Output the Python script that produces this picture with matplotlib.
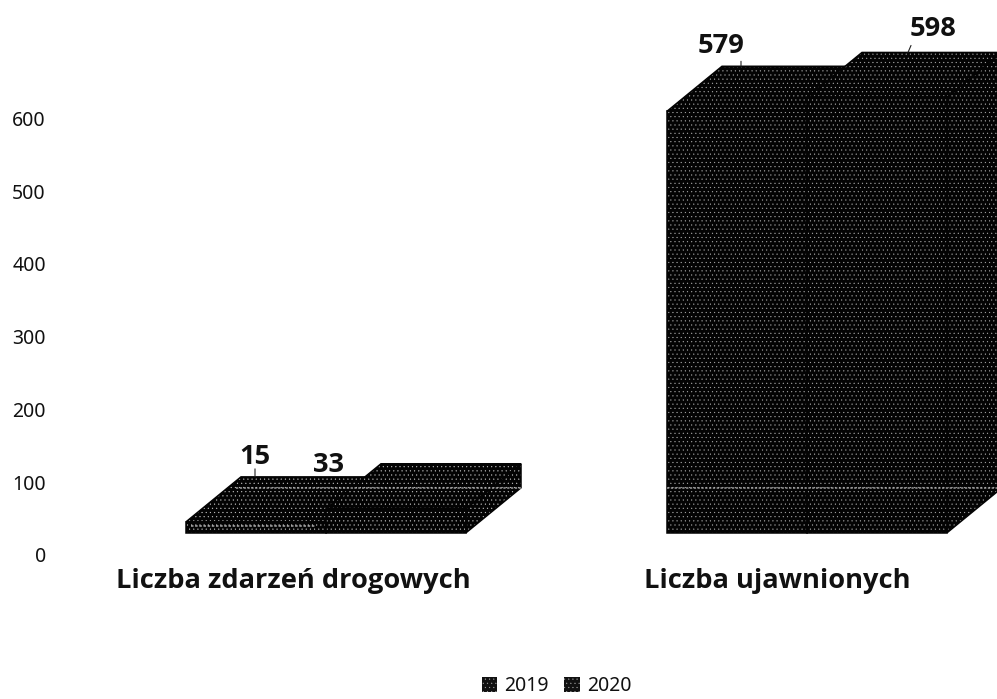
import matplotlib
matplotlib.use("Agg")
import matplotlib.pyplot as plt
from matplotlib.patches import Polygon, Patch

plt.rcParams['font.family'] = ['Noto Sans', 'DejaVu Sans']
plt.rcParams['hatch.linewidth'] = 0.3

categories = ["Liczba zdarzeń drogowych", "Liczba ujawnionych"]
series_names = ["2019", "2020"]
values_2019 = [15, 579]
values_2020 = [33, 598]
y_ticks = [0, 100, 200, 300, 400, 500, 600]

W, H = 997, 699
PX_X = 481.0      # pixels per category
PX_Y = 0.728      # pixels per value unit
X0_PX = 326.0     # pixel position of first category
Y0_PX = 555.0     # pixel position of value 0

BAR_W = 140 / PX_X
DEPTH_X = 55 / PX_X
DEPTH_Y = 45 / PX_Y
FLOOR = 30.5

fig = plt.figure(figsize=(W / 100, H / 100), dpi=100, facecolor='white')
ax = fig.add_axes([0, 0, 1, 1])
ax.set_xlim(-X0_PX / PX_X, (W - X0_PX) / PX_X)
ax.set_ylim(-(H - Y0_PX) / PX_Y, Y0_PX / PX_Y)
for s in ax.spines.values():
    s.set_visible(False)
ax.patch.set_visible(False)

ax.set_xticks([])
ax.set_yticks(y_ticks)
ax.tick_params(axis='y', length=0, pad=-33, labelsize=14, labelcolor='#111111')
for t in ax.get_yticklabels():
    t.set_ha('right')


def bar3d(x_left, value, z, dots):
    x_right = x_left + BAR_W
    base = FLOOR
    top = FLOOR + value
    faces = [
        [(x_left, top), (x_right, top), (x_right + DEPTH_X, top + DEPTH_Y), (x_left + DEPTH_X, top + DEPTH_Y)],
        [(x_right, base), (x_right + DEPTH_X, base + DEPTH_Y), (x_right + DEPTH_X, top + DEPTH_Y), (x_right, top)],
        [(x_left, base), (x_right, base), (x_right, top), (x_left, top)],
    ]
    for pts in faces:
        ax.add_patch(Polygon(pts, closed=True, facecolor='#030303', edgecolor='none', zorder=z))
        ax.add_patch(Polygon(pts, closed=True, facecolor='none', edgecolor=dots, hatch='....',
                             linewidth=0, zorder=z))
        ax.add_patch(Polygon(pts, closed=True, facecolor='none', edgecolor='#030303',
                             linewidth=1.1, zorder=z))


group_dots = ['#c4c4c4', '#a8a8a8']
for i, (a, b) in enumerate(zip(values_2019, values_2020)):
    bar3d(i - BAR_W, a, 2, group_dots[i])
    bar3d(i, b, 3, group_dots[i])

# faint gridline that shows through the bars
band = FLOOR + DEPTH_Y
for i in range(len(categories)):
    ax.plot([i - BAR_W + (0 if i else DEPTH_X * 0.9), i + BAR_W + DEPTH_X], [band, band],
            color='#b5b5b5', lw=1.1, ls=(0, (1.5, 1)), alpha=0.85, zorder=4)
ax.plot([-BAR_W + 0.01, -0.02], [FLOOR + 9, FLOOR + 9], color='#bdbdbd', lw=1.2,
        ls=(0, (1.5, 1)), alpha=0.8, zorder=4)

# data labels with their short leader ticks
label_style = dict(textcoords='offset pixels', ha='center', va='center', fontsize=19.6,
                   fontweight='bold', color='#111111', zorder=6, family='Open Sans')
offsets_2019 = [(-56, 20), (-71, 20)]
offsets_2020 = [(-123, -1), (1, 23)]
leaders_2019 = [(-56, 8), (-51, 5)]
leaders_2020 = [None, (-24, 7)]

for i, v in enumerate(values_2019):
    xy = (i - BAR_W / 2 + DEPTH_X, FLOOR + v + DEPTH_Y)
    ax.annotate(str(v), xy=xy, xytext=offsets_2019[i], **label_style)
    ax.annotate('', xy=(xy[0] + leaders_2019[i][0] / PX_X, xy[1]),
                xytext=(xy[0] + leaders_2019[i][0] / PX_X, xy[1] + leaders_2019[i][1] / PX_Y),
                arrowprops=dict(arrowstyle='-', color='#222222', lw=0.8, shrinkA=0, shrinkB=0), zorder=5)
for i, v in enumerate(values_2020):
    xy = (i + BAR_W / 2 + DEPTH_X, FLOOR + v + DEPTH_Y)
    ax.annotate(str(v), xy=xy, xytext=offsets_2020[i], **label_style)
    if leaders_2020[i]:
        dx, dy = leaders_2020[i]
        ax.annotate('', xy=(xy[0] + dx / PX_X, xy[1]),
                    xytext=(xy[0] + (dx + 3) / PX_X, xy[1] + dy / PX_Y),
                    arrowprops=dict(arrowstyle='-', color='#222222', lw=0.8, shrinkA=0, shrinkB=0), zorder=5)

# category labels
for i, c in enumerate(categories):
    ax.annotate(c, xy=(i, 0), xytext=(-33 if i == 0 else -30, -26), textcoords='offset pixels',
                ha='center', va='center', fontsize=19.6, fontweight='bold', color='#111111',
                family='Open Sans')

# legend
handles = [Patch(facecolor='#111111', edgecolor='#a0a0a0', hatch='....', linewidth=0, label=n)
           for n in series_names]
ax.legend(handles=handles, loc='center', bbox_to_anchor=(556.5 / W, 1 - 686 / H), ncol=2, frameon=False,
          fontsize=14, handlelength=0.78, handleheight=0.78, handletextpad=0.36, columnspacing=0.82,
          borderpad=0, borderaxespad=0, labelcolor='#111111')

fig.savefig('out.png', dpi=100, facecolor='white')
